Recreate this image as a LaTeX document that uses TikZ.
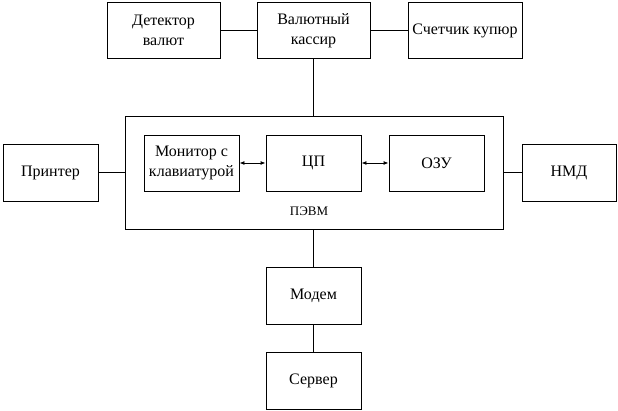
\documentclass[tikz,border=0pt]{standalone}
\usepackage{fontspec}
\setmainfont{Liberation Serif}
\newfontfamily\tnr{Liberation Serif}
\usetikzlibrary{arrows.meta}
\begin{document}
\begin{tikzpicture}[x=1pt,y=-1pt,
  blk/.style={draw, line width=0.9pt, inner sep=0pt, align=center, font=\tnr\fontsize{16}{20}\selectfont},
  conn/.style={line width=0.9pt},
  biarrow/.style={line width=0.9pt, {Latex[length=5pt,width=4pt]}-{Latex[length=5pt,width=4pt]}}]
\useasboundingbox (0,0) rectangle (618,411);
% top row
\node[blk, minimum width=113pt, minimum height=56pt] (det) at (163.5,30.5) {Детектор\\валют};
\node[blk, minimum width=113pt, minimum height=56pt] (kas) at (313.5,30.5) {Валютный\\кассир};
\node[blk, minimum width=114pt, minimum height=56pt] (sch) at (465,30.5) {Счетчик купюр};
% PEVM
\node[draw, line width=0.9pt, minimum width=378pt, minimum height=113pt, inner sep=0pt] (pevm) at (314,172.5) {};
\node[font=\tnr\fontsize{13}{15}\selectfont] (pevmlbl) at (309,211) {ПЭВМ};
\node[blk, minimum width=95pt, minimum height=56pt] (mon) at (191.5,163) {Монитор с\\клавиатурой};
\node[blk, minimum width=95pt, minimum height=56pt] (cpu) at (313.5,163) {ЦП};
\node[blk, minimum width=95pt, minimum height=56pt] (ram) at (436.5,163) {ОЗУ};
% sides
\node[blk, minimum width=95pt, minimum height=57pt] (prn) at (50.5,172.5) {Принтер};
\node[blk, minimum width=94pt, minimum height=57pt] (nmd) at (569,172.5) {НМД};
% bottom
\node[blk, minimum width=95pt, minimum height=57pt] (mod) at (313.5,295.5) {Модем};
\node[blk, minimum width=95pt, minimum height=57pt] (srv) at (313.5,380.5) {Сервер};
% connectors
\draw[conn] (det.east) -- (kas.west);
\draw[conn] (kas.east) -- (sch.west);
\draw[conn] (kas.south) -- (kas.south |- pevm.north);
\draw[conn] (prn.east) -- (prn.east -| pevm.west);
\draw[conn] (nmd.west) -- (nmd.west -| pevm.east);
\draw[conn] (mod.north |- pevm.south) -- (mod.north);
\draw[conn] (mod.south) -- (srv.north);
\draw[biarrow] (mon.east) -- (cpu.west);
\draw[biarrow] (cpu.east) -- (ram.west);
\end{tikzpicture}
\end{document}
